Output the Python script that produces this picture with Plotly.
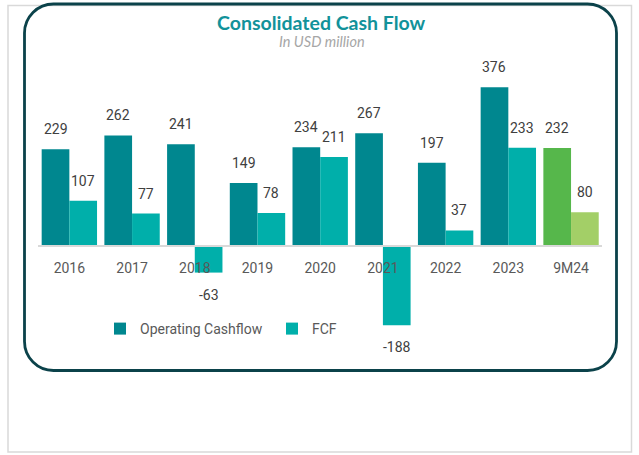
import plotly.graph_objects as go

# ---------------- data ----------------
categories = ["2016", "2017", "2018", "2019", "2020", "2021", "2022", "2023", "9M24"]
operating_cf = [229, 262, 241, 149, 234, 267, 197, 376, 232]
fcf = [107, 77, -63, 78, 211, -188, 37, 233, 80]
series_names = ["Operating Cashflow", "FCF"]
title_text = "Consolidated Cash Flow"
subtitle_text = "In USD million"

# ---------------- styling / geometry ----------------
W, H = 639, 455
OP_COLORS = ["#00878F"] * 8 + ["#56B74B"]
FCF_COLORS = ["#00AFAA"] * 8 + ["#A3CF67"]
FONT = "Roboto"

plot_left, plot_right = 38.0, 602.4
plot_top, plot_bottom = 50.0, 345.0
zero_px = 246.0
px_per_unit = 0.4221
y_max = (zero_px - plot_top) / px_per_unit
y_min = -(plot_bottom - zero_px) / px_per_unit
bargap = 0.117
cat_px = (plot_right - plot_left) / len(categories)
bar_px = cat_px * (1 - bargap) / 2


def px(x):
    return x / W


def py(y):
    return 1 - y / H


fig = go.Figure()
fig.add_trace(go.Bar(x=categories, y=operating_cf, name=series_names[0],
                     marker=dict(color=OP_COLORS, line=dict(width=0))))
fig.add_trace(go.Bar(x=categories, y=fcf, name=series_names[1],
                     marker=dict(color=FCF_COLORS, line=dict(width=0))))

annotations = []
for i, c in enumerate(categories):
    for vals, sh in ((operating_cf, -bar_px / 2), (fcf, bar_px / 2)):
        v = vals[i]
        annotations.append(dict(
            x=i, y=v, xref="x", yref="y", text=str(v), showarrow=False,
            xshift=sh, yshift=20 if v >= 0 else -22, yanchor="middle",
            font=dict(family=FONT, size=14, color="#404040")))

annotations.append(dict(x=px(322), y=py(22), xref="paper", yref="paper",
                        text="<b>" + title_text + "</b>", showarrow=False,
                        xanchor="center", yanchor="middle",
                        font=dict(family="Lato", size=19.5, color="#12929A")))
annotations.append(dict(x=px(322), y=py(41), xref="paper", yref="paper",
                        text="<i>" + subtitle_text + "</i>", showarrow=False,
                        xanchor="center", yanchor="middle",
                        font=dict(family="Lato", size=14.5, color="#A6A6A6")))

# rounded frame
L, R, T, B, r = 24.5, 616.5, 4.0, 370.5, 29.0
k = 0.5523 * r


def P(x, y):
    return f"{px(x):.5f},{py(y):.5f}"


path = (f"M{P(L + r, T)} L{P(R - r, T)} C{P(R - r + k, T)} {P(R, T + r - k)} {P(R, T + r)} "
        f"L{P(R, B - r)} C{P(R, B - r + k)} {P(R - r + k, B)} {P(R - r, B)} "
        f"L{P(L + r, B)} C{P(L + r - k, B)} {P(L, B - r + k)} {P(L, B - r)} "
        f"L{P(L, T + r)} C{P(L, T + r - k)} {P(L + r - k, T)} {P(L + r, T)} Z")

shapes = [
    dict(type="rect", xref="paper", yref="paper", x0=px(8), x1=px(631.5), y0=py(452), y1=py(5.5),
         line=dict(color="#D9D9D9", width=1.5), layer="below"),
    dict(type="path", xref="paper", yref="paper", path=path,
         line=dict(color="#0B424A", width=2.8), layer="below"),
]

fig.update_layout(
    width=W, height=H,
    margin=dict(l=0, r=0, t=0, b=0),
    paper_bgcolor="white", plot_bgcolor="rgba(0,0,0,0)",
    barmode="group", bargap=bargap, bargroupgap=0,
    font=dict(family=FONT, size=14, color="#595959"),
    showlegend=True,
    legend=dict(orientation="h", x=px(100), y=py(329), xanchor="left", yanchor="middle",
                font=dict(family=FONT, size=14, color="#595959"),
                entrywidth=127, entrywidthmode="pixels", bgcolor="rgba(0,0,0,0)"),
    xaxis=dict(domain=[px(plot_left), px(plot_right)], type="category",
               range=[-0.5, len(categories) - 0.5],
               anchor="free", position=py(zero_px),
               showline=True, linecolor="#D9D9D9", linewidth=2,
               ticks="outside", ticklen=9, tickcolor="rgba(0,0,0,0)",
               tickfont=dict(family=FONT, size=14, color="#595959"),
               showgrid=False, zeroline=False, fixedrange=True),
    yaxis=dict(domain=[py(plot_bottom), py(plot_top)], range=[y_min, y_max],
               showgrid=False, zeroline=False, showticklabels=False, showline=False,
               fixedrange=True),
    annotations=annotations,
    shapes=shapes,
)

fig.write_html("out.html", config={"displayModeBar": False},
               post_script="document.body.style.margin='0';document.body.style.overflow='hidden';")
